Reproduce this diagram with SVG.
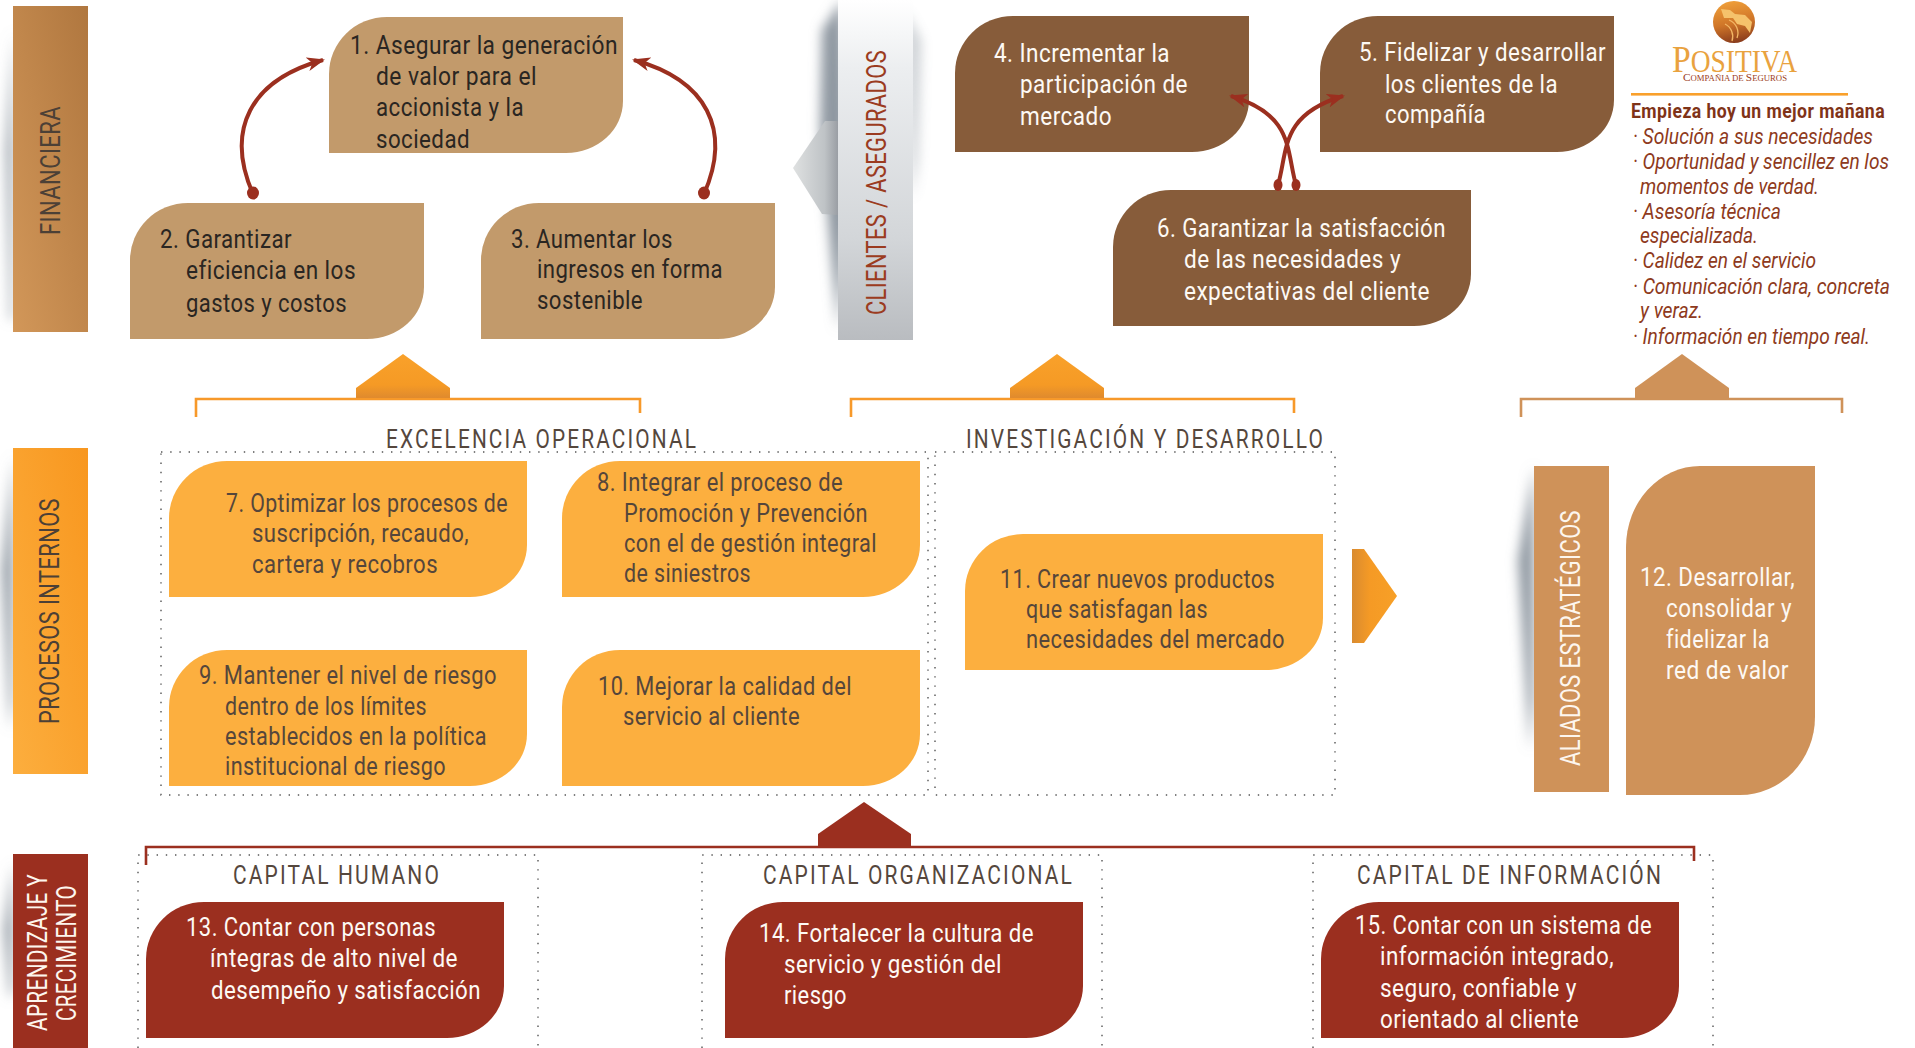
<svg xmlns="http://www.w3.org/2000/svg" width="1915" height="1048" viewBox="0 0 1915 1048">
<style>
text{font-family:"Liberation Sans Narrow","Roboto","Liberation Sans",sans-serif;font-size:25.5px;letter-spacing:.5px}
.dk{fill:#2a2622}.wh{fill:#fdf9f4}.gr{fill:#55463b}
.hd{fill:#55473d;font-size:25.5px;letter-spacing:2.6px}
.sd{font-size:28px;fill:#4c4036;letter-spacing:.5px}
.sw{font-size:28px;fill:#fdf6ee;letter-spacing:.5px}
.it{fill:#8e3a20;font-style:italic;font-size:21.5px;letter-spacing:0}
.tan{fill:#c29a6b}.brn{fill:#875c3a}.org{fill:#fcaf3f}.red{fill:#9b2f1f}.cop{fill:#cf9259}
.dot{fill:none;stroke:#555;stroke-width:1.4;stroke-dasharray:1.4 7.8}
.brk{fill:none;stroke-width:2.6}
.arc{fill:none;stroke:#9b2f1f;stroke-width:4}
.blur{filter:url(#bl);fill:#8f98a1}
</style>
<defs>
<filter id="bl" x="-100%" y="-30%" width="300%" height="160%"><feGaussianBlur stdDeviation="6"/></filter>
<path id="bn" d="M0,136V57A58,57 0 0 1 58,0H294V84A57,52 0 0 1 237,136Z"/>
<path id="bw" d="M0,136V57A58,57 0 0 1 58,0H358V84A57,52 0 0 1 301,136Z"/>
<linearGradient id="gF" x1="0" y1="1" x2="1" y2="0"><stop offset="0" stop-color="#d29759"/><stop offset="1" stop-color="#b0773f"/></linearGradient>
<linearGradient id="gP" x1="0" y1="1" x2="1" y2="0"><stop offset="0" stop-color="#fcae3e"/><stop offset="1" stop-color="#f8971f"/></linearGradient>
<linearGradient id="gC" x1="0" y1="0" x2="0" y2="1"><stop offset="0" stop-color="#fff"/><stop offset=".2" stop-color="#eceef0"/><stop offset=".7" stop-color="#d3d6d9"/><stop offset="1" stop-color="#b9bcc0"/></linearGradient>
<linearGradient id="gA" x1="0" y1="0" x2="1" y2="0"><stop offset="0" stop-color="#dfe1e1"/><stop offset=".7" stop-color="#bfc3c6"/><stop offset="1" stop-color="#9a9ea4"/></linearGradient>
<linearGradient id="gH" x1="0" y1="0" x2="0" y2="1"><stop offset="0" stop-color="#f9a12a"/><stop offset=".7" stop-color="#f59a25"/><stop offset="1" stop-color="#df8a2e"/></linearGradient>
<linearGradient id="gR" x1="0" y1="0" x2="1" y2="0"><stop offset="0" stop-color="#d98b30"/><stop offset=".4" stop-color="#f59a25"/><stop offset="1" stop-color="#f7a027"/></linearGradient>
<linearGradient id="gL" x1="0.3" y1="0" x2="0.5" y2="1"><stop offset="0" stop-color="#f0a03a"/><stop offset=".55" stop-color="#cf7528"/><stop offset="1" stop-color="#8a3c1c"/></linearGradient>
<marker id="ah" viewBox="0 0 18 14" refX="16" refY="7" markerWidth="18" markerHeight="14" markerUnits="userSpaceOnUse" orient="auto"><path d="M0,0L18,7L0,14L5,7Z" fill="#9b2f1f"/></marker>
</defs>
<rect width="1915" height="1048" fill="#fff"/>

<g id="shadows">
<path class="blur" d="M13,30L6,150L10,320L13,320Z"/>
<path class="blur" d="M13,455L2,570L10,730L13,700Z"/>
<path class="blur" d="M1534,466L1518,560L1530,750L1534,700Z"/>
<path class="blur" d="M13,862L4,930L10,1000L13,990Z"/>
<path class="blur" d="M842,0L822,30L820,130L838,330L850,200Z"/>
<path class="blur" d="M905,10L921,40L918,160L912,200Z" opacity=".45"/>
</g>

<g id="band-financiera"><rect x="13" y="6" width="75" height="326" fill="url(#gF)"/><text class="sd" transform="translate(60,235) rotate(-90)" textLength="129" lengthAdjust="spacingAndGlyphs">FINANCIERA</text></g>
<g id="band-procesos"><rect x="13" y="448" width="75" height="326" fill="url(#gP)"/><text class="sd" transform="translate(59,724) rotate(-90)" textLength="226" lengthAdjust="spacingAndGlyphs">PROCESOS INTERNOS</text></g>
<g id="band-aprendizaje"><rect x="13" y="854" width="75" height="194" class="red"/><text class="sw" transform="translate(47,1031) rotate(-90)" textLength="157" lengthAdjust="spacingAndGlyphs">APRENDIZAJE Y</text><text class="sw" transform="translate(76,1021) rotate(-90)" textLength="136" lengthAdjust="spacingAndGlyphs">CRECIMIENTO</text></g>
<g id="band-clientes"><polygon points="793,168 825,121 838,121 838,215 822,214" fill="url(#gA)"/><rect x="838" y="0" width="75" height="340" fill="url(#gC)"/><text class="sd" style="fill:#9b3b20" transform="translate(886,315) rotate(-90)" textLength="265" lengthAdjust="spacingAndGlyphs">CLIENTES / ASEGURADOS</text></g>
<g id="band-aliados"><rect x="1534" y="466" width="75" height="326" class="cop"/><text class="sw" transform="translate(1580,766) rotate(-90)" textLength="256" lengthAdjust="spacingAndGlyphs">ALIADOS ESTRATÉGICOS</text></g>

<g id="dotted-frames">
<rect class="dot" x="161" y="452" width="767" height="343"/>
<rect class="dot" x="935" y="452" width="400" height="343"/>
<path class="dot" d="M138,1048V855H538V1048"/>
<path class="dot" d="M702,1048V855H1102V1048"/>
<path class="dot" d="M1313,1048V855H1713V1048"/>
<text class="hd" x="386" y="448" textLength="312" lengthAdjust="spacingAndGlyphs">EXCELENCIA OPERACIONAL</text>
<text class="hd" x="966" y="448" textLength="359" lengthAdjust="spacingAndGlyphs">INVESTIGACIÓN Y DESARROLLO</text>
<text class="hd" x="233" y="884" textLength="208" lengthAdjust="spacingAndGlyphs">CAPITAL HUMANO</text>
<text class="hd" x="763" y="884" textLength="311" lengthAdjust="spacingAndGlyphs">CAPITAL ORGANIZACIONAL</text>
<text class="hd" x="1357" y="884" textLength="306" lengthAdjust="spacingAndGlyphs">CAPITAL DE INFORMACIÓN</text>
</g>

<g id="node-1"><use href="#bn" x="329" y="17" class="tan"/><g class="dk"><text x="350" y="54" textLength="268" lengthAdjust="spacingAndGlyphs">1. Asegurar la generación</text><text x="376" y="85" textLength="161" lengthAdjust="spacingAndGlyphs">de valor para el</text><text x="376" y="116" textLength="148" lengthAdjust="spacingAndGlyphs">accionista y la</text><text x="376" y="148" textLength="94" lengthAdjust="spacingAndGlyphs">sociedad</text></g></g>
<g id="node-2"><use href="#bn" x="130" y="203" class="tan"/><g class="dk"><text x="160" y="248" textLength="132" lengthAdjust="spacingAndGlyphs">2. Garantizar</text><text x="186" y="279" textLength="170" lengthAdjust="spacingAndGlyphs">eficiencia en los</text><text x="186" y="312" textLength="161" lengthAdjust="spacingAndGlyphs">gastos y costos</text></g></g>
<g id="node-3"><use href="#bn" x="481" y="203" class="tan"/><g class="dk"><text x="511" y="248" textLength="162" lengthAdjust="spacingAndGlyphs">3. Aumentar los</text><text x="537" y="278" textLength="186" lengthAdjust="spacingAndGlyphs">ingresos en forma</text><text x="537" y="309" textLength="106" lengthAdjust="spacingAndGlyphs">sostenible</text></g></g>
<g id="node-4"><use href="#bn" x="955" y="16" class="brn"/><g class="wh"><text x="994" y="62" textLength="176" lengthAdjust="spacingAndGlyphs">4. Incrementar la</text><text x="1020" y="93" textLength="168" lengthAdjust="spacingAndGlyphs">participación de</text><text x="1020" y="125" textLength="92" lengthAdjust="spacingAndGlyphs">mercado</text></g></g>
<g id="node-5"><use href="#bn" x="1320" y="16" class="brn"/><g class="wh"><text x="1359" y="61" textLength="247" lengthAdjust="spacingAndGlyphs">5. Fidelizar y desarrollar</text><text x="1385" y="93" textLength="173" lengthAdjust="spacingAndGlyphs">los clientes de la</text><text x="1385" y="123" textLength="101" lengthAdjust="spacingAndGlyphs">compañía</text></g></g>
<g id="node-6"><use href="#bw" x="1113" y="190" class="brn"/><g class="wh"><text x="1157" y="237" textLength="289" lengthAdjust="spacingAndGlyphs">6. Garantizar la satisfacción</text><text x="1184" y="268" textLength="217" lengthAdjust="spacingAndGlyphs">de las necesidades y</text><text x="1184" y="300" textLength="246" lengthAdjust="spacingAndGlyphs">expectativas del cliente</text></g></g>
<g id="node-7"><use href="#bw" x="169" y="461" class="org"/><g class="gr"><text x="226" y="512" textLength="282" lengthAdjust="spacingAndGlyphs">7. Optimizar los procesos de</text><text x="252" y="542" textLength="217" lengthAdjust="spacingAndGlyphs">suscripción, recaudo,</text><text x="252" y="573" textLength="186" lengthAdjust="spacingAndGlyphs">cartera y recobros</text></g></g>
<g id="node-8"><use href="#bw" x="562" y="461" class="org"/><g class="gr"><text x="597" y="491" textLength="246" lengthAdjust="spacingAndGlyphs">8. Integrar el proceso de</text><text x="624" y="522" textLength="244" lengthAdjust="spacingAndGlyphs">Promoción y Prevención</text><text x="624" y="552" textLength="253" lengthAdjust="spacingAndGlyphs">con el de gestión integral</text><text x="624" y="582" textLength="127" lengthAdjust="spacingAndGlyphs">de siniestros</text></g></g>
<g id="node-9"><use href="#bw" x="169" y="650" class="org"/><g class="gr"><text x="199" y="684" textLength="298" lengthAdjust="spacingAndGlyphs">9. Mantener el nivel de riesgo</text><text x="225" y="715" textLength="202" lengthAdjust="spacingAndGlyphs">dentro de los límites</text><text x="225" y="745" textLength="262" lengthAdjust="spacingAndGlyphs">establecidos en la política</text><text x="225" y="775" textLength="221" lengthAdjust="spacingAndGlyphs">institucional de riesgo</text></g></g>
<g id="node-10"><use href="#bw" x="562" y="650" class="org"/><g class="gr"><text x="598" y="695" textLength="254" lengthAdjust="spacingAndGlyphs">10. Mejorar la calidad del</text><text x="623" y="725" textLength="177" lengthAdjust="spacingAndGlyphs">servicio al cliente</text></g></g>
<g id="node-11"><use href="#bw" x="965" y="534" class="org"/><g class="gr"><text x="1000" y="588" textLength="275" lengthAdjust="spacingAndGlyphs">11. Crear nuevos productos</text><text x="1026" y="618" textLength="182" lengthAdjust="spacingAndGlyphs">que satisfagan las</text><text x="1026" y="648" textLength="259" lengthAdjust="spacingAndGlyphs">necesidades del mercado</text></g></g>
<g id="node-12"><path class="cop" d="M1626,795V547A74,81 0 0 1 1700,466H1815V717A75,78 0 0 1 1740,795Z"/><g class="wh"><text x="1640" y="586" textLength="155" lengthAdjust="spacingAndGlyphs">12. Desarrollar,</text><text x="1666" y="617" textLength="126" lengthAdjust="spacingAndGlyphs">consolidar y</text><text x="1666" y="648" textLength="104" lengthAdjust="spacingAndGlyphs">fidelizar la</text><text x="1666" y="679" textLength="123" lengthAdjust="spacingAndGlyphs">red de valor</text></g></g>
<g id="node-13"><use href="#bw" x="146" y="902" class="red"/><g class="wh"><text x="186" y="936" textLength="250" lengthAdjust="spacingAndGlyphs">13. Contar con personas</text><text x="210" y="967" textLength="248" lengthAdjust="spacingAndGlyphs">íntegras de alto nivel de</text><text x="211" y="999" textLength="270" lengthAdjust="spacingAndGlyphs">desempeño y satisfacción</text></g></g>
<g id="node-14"><use href="#bw" x="725" y="902" class="red"/><g class="wh"><text x="759" y="942" textLength="275" lengthAdjust="spacingAndGlyphs">14. Fortalecer la cultura de</text><text x="784" y="973" textLength="218" lengthAdjust="spacingAndGlyphs">servicio y gestión del</text><text x="784" y="1004" textLength="63" lengthAdjust="spacingAndGlyphs">riesgo</text></g></g>
<g id="node-15"><use href="#bw" x="1321" y="902" class="red"/><g class="wh"><text x="1355" y="934" textLength="297" lengthAdjust="spacingAndGlyphs">15. Contar con un sistema de</text><text x="1380" y="965" textLength="234" lengthAdjust="spacingAndGlyphs">información integrado,</text><text x="1380" y="997" textLength="197" lengthAdjust="spacingAndGlyphs">seguro, confiable y</text><text x="1380" y="1028" textLength="199" lengthAdjust="spacingAndGlyphs">orientado al cliente</text></g></g>

<g id="connectors">
<path class="arc" d="M253,194C225,130 250,80 323,60" marker-end="url(#ah)"/>
<path class="arc" d="M704,194C732,130 707,80 634,60" marker-end="url(#ah)"/>
<ellipse cx="253" cy="193" rx="6" ry="6.5" class="red"/><ellipse cx="704" cy="193" rx="6" ry="6.5" class="red"/>
<path class="arc" d="M1278,185C1288,150 1280,115 1343,96" marker-end="url(#ah)"/>
<path class="arc" d="M1296,185C1286,150 1294,115 1231,96" marker-end="url(#ah)"/>
<ellipse cx="1278" cy="185" rx="4.5" ry="6" class="red"/><ellipse cx="1296" cy="185" rx="4.5" ry="6" class="red"/>
<path class="brk" stroke="#f7992a" d="M196,417V399H640V413"/>
<path class="brk" stroke="#f7992a" d="M851,417V399H1294V413"/>
<path class="brk" stroke="#cf9259" d="M1521,417V399H1842V413"/>
<path class="brk" stroke="#9b2f1f" stroke-width="3" d="M146,865V847H1694V861"/>
<polygon points="356,398 356,388 403,354 450,388 450,398" fill="url(#gH)"/>
<polygon points="1010,398 1010,388 1057,354 1104,388 1104,398" fill="url(#gH)"/>
<polygon points="1635,398 1635,388 1682,354 1729,388 1729,398" class="cop"/>
<polygon points="818,846 818,834 864,802 911,834 911,846" class="red"/>
<polygon points="1352,549 1364,549 1397,596 1364,643 1352,643" fill="url(#gR)"/>
</g>

<g id="logo">
<circle cx="1734" cy="22" r="21" fill="url(#gL)"/>
<path d="M1721,9L1730,10L1735,14L1745,15L1752,22L1750,33L1745,26L1737,24L1733,18L1724,18Z" fill="#f5c26b"/>
<path d="M1729,20A14,14 0 0 1 1737,38M1725,24A14,14 0 0 1 1732,41" fill="none" stroke="#f3b766" stroke-width="1.3"/>
<text x="1672" y="72" fill="#e9a23e" style="font-family:'Liberation Serif',serif;font-size:31px;letter-spacing:0" textLength="125" lengthAdjust="spacingAndGlyphs"><tspan style="font-size:38px">P</tspan>OSITIVA</text>
<text x="1683" y="81" fill="#9c3d22" style="font-family:'Liberation Serif',serif;font-size:8.5px;letter-spacing:0" textLength="104" lengthAdjust="spacingAndGlyphs"><tspan style="font-size:11px">C</tspan>OMPAÑIA DE <tspan style="font-size:11px">S</tspan>EGUROS</text>
</g>

<g id="note">
<rect x="1631" y="93" width="217" height="2.6" fill="#f9a02b"/>
<text x="1631" y="118" fill="#7f3318" style="font-weight:bold;font-size:21px" textLength="254" lengthAdjust="spacingAndGlyphs">Empieza hoy un mejor mañana</text>
<text class="it" x="1633" y="144" textLength="240" lengthAdjust="spacingAndGlyphs">· Solución a sus necesidades</text>
<text class="it" x="1633" y="169" textLength="256" lengthAdjust="spacingAndGlyphs">· Oportunidad y sencillez en los</text>
<text class="it" x="1640" y="194" textLength="179" lengthAdjust="spacingAndGlyphs">momentos de verdad.</text>
<text class="it" x="1633" y="219" textLength="148" lengthAdjust="spacingAndGlyphs">· Asesoría técnica</text>
<text class="it" x="1640" y="243" textLength="118" lengthAdjust="spacingAndGlyphs">especializada.</text>
<text class="it" x="1633" y="268" textLength="183" lengthAdjust="spacingAndGlyphs">· Calidez en el servicio</text>
<text class="it" x="1633" y="294" textLength="257" lengthAdjust="spacingAndGlyphs">· Comunicación clara, concreta</text>
<text class="it" x="1640" y="318" textLength="63" lengthAdjust="spacingAndGlyphs">y veraz.</text>
<text class="it" x="1633" y="344" textLength="237" lengthAdjust="spacingAndGlyphs">· Información en tiempo real.</text>
</g>
</svg>
